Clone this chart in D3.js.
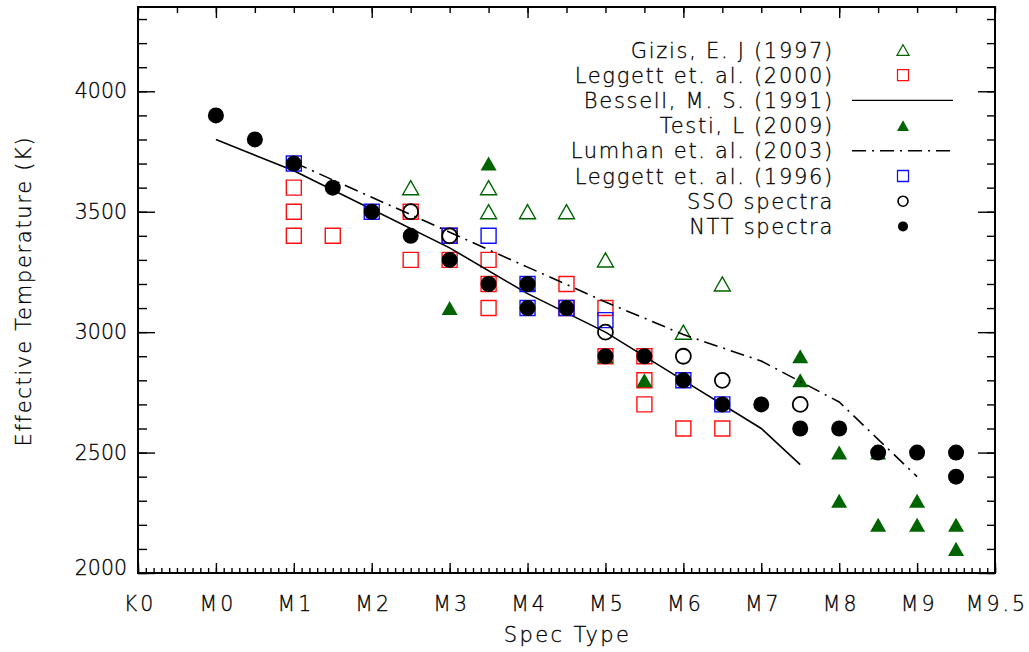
<!DOCTYPE html>
<html>
<head>
<meta charset="utf-8">
<script src="https://cdn.jsdelivr.net/npm/d3@7/dist/d3.min.js"></script>
<style>
	html,body{margin:0;padding:0;background:#fff;}
	#chart{width:1029px;height:652px;}
	text{font-family:'DejaVu Sans',sans-serif;font-weight:200;fill:#000;stroke:#000;stroke-width:0.3px;}
</style>
</head>
<body>
<div id="chart"></div>
<script>
// spectral type as number: K0=-1, M0=0 ... M9.5=9.5
var tickVals=[-1,0,1,2,3,4,5,6,7,8,9,10];
var tickNames=['K0','M0','M1','M2','M3','M4','M5','M6','M7','M8','M9','M9.5'];
var yTickVals=[2000,2500,3000,3500,4000];

var gizisType=[2.5,3.5,3.5,4,4.5,5,6,6.5];
var gizisTeff=[3600,3600,3500,3500,3500,3300,3000,3200];

var leg00Type=[1,1,1,1.5,2.5,2.5,3,3,3.5,3.5,3.5,4.5,4.5,5,5,5.5,5.5,5.5,6,6.5];
var leg00Teff=[3600,3500,3400,3400,3500,3300,3400,3300,3300,3200,3100,3200,3100,3100,2900,2900,2800,2700,2600,2600];

var besType=[0,1,2,3,4,5,6,7,7.5];
var besTeff=[3800,3670,3510,3350,3160,3000,2800,2600,2450];

var testiType=[3,3.5,4,5,5.5,7.5,7.5,8,8,8.5,8.5,9,9,9.5,9.5];
var testiTeff=[3100,3700,3200,2900,2800,2900,2800,2500,2300,2500,2200,2300,2200,2200,2100];

var lumType=[1,1.5,2,2.5,3,3.5,4,4.5,5,5.5,6,6.5,7,7.5,8,8.5,9];
var lumTeff=[3705,3632,3560,3488,3415,3342,3270,3198,3125,3058,2990,2935,2880,2795,2710,2555,2400];

var leg96Type=[1,2,3,3.5,4,4,4.5,5,6,6.5];
var leg96Teff=[3700,3500,3400,3400,3200,3100,3100,3050,2800,2700];

var ssoType=[2.5,3,5,6,6.5,7.5];
var ssoTeff=[3500,3400,3000,2900,2800,2700];

var nttType=[0,0.5,1,1.5,2,2.5,3,3.5,4,4,4.5,5,5.5,6,6.5,7,7.5,8,8.5,9,9.5,9.5];
var nttTeff=[3900,3800,3700,3600,3500,3400,3300,3200,3200,3100,3100,2900,2900,2800,2700,2700,2600,2600,2500,2500,2500,2400];

var legendNames=['Gizis, E. J (1997)','Leggett et. al. (2000)','Bessell, M. S. (1991)','Testi, L (2009)',
	'Lumhan et. al. (2003)','Leggett et. al. (1996)','SSO spectra','NTT spectra'];

var W=1029,H=652,
	L=138,R=995,T=7,B=573;

var svg=d3.select('#chart').append('svg')
	.attr('width',W).attr('height',H)
	.attr('font-size',21);

var x=d3.scaleLinear().domain([-1,10]).range([L,R]);
var y=d3.scaleLinear().domain([2000,4350]).range([B,T]);

function zip(a,b){
	return a.map(function(v,i){return [v,b[i]]});
}

// triangle centred on its bounding box
var triType={
	draw:function(ctx,size){
		var s=Math.sqrt(size),h=s*0.88;
		ctx.moveTo(0,-h/2);
		ctx.lineTo(s/2,h/2);
		ctx.lineTo(-s/2,h/2);
		ctx.closePath();
	}
};
var sqType={
	draw:function(ctx,size){
		var s=Math.sqrt(size)/2;
		ctx.rect(-s,-s,s*2,s*2);
	}
};
var circType={
	draw:function(ctx,size){
		var r=Math.sqrt(size)/2;
		ctx.moveTo(r,0);
		ctx.arc(0,0,r,0,Math.PI*2);
	}
};

// styles: big = in plot, small = legend
var styles=[
	{type:triType,big:16,small:12,fill:'none',stroke:'#006400',sw:1.4},
	{type:sqType,big:15,small:11,fill:'none',stroke:'#ff1010',sw:1.4},
	null,
	{type:triType,big:16,small:12,fill:'#006400',stroke:'none',sw:0},
	null,
	{type:sqType,big:15,small:11,fill:'none',stroke:'#1010ff',sw:1.4},
	{type:circType,big:15,small:10,fill:'none',stroke:'#000',sw:1.8},
	{type:circType,big:16,small:10,fill:'#000',stroke:'none',sw:0}
];

var gPlot=svg.append('g').attr('id','g-plot');

function drawPoints(pts,st){
	var sym=d3.symbol().type(st.type).size(st.big*st.big);
	gPlot.append('g').selectAll('path').data(pts).enter().append('path')
		.attr('transform',function(d){return 'translate('+x(d[0])+','+y(d[1])+')'})
		.attr('d',sym)
		.attr('fill',st.fill)
		.attr('stroke',st.stroke)
		.attr('stroke-width',st.sw);
}

var line=d3.line().x(function(d){return x(d[0])}).y(function(d){return y(d[1])});

function drawLine(pts,dash){
	gPlot.append('path').datum(pts)
		.attr('d',line)
		.attr('fill','none')
		.attr('stroke','#000')
		.attr('stroke-width',1.6)
		.attr('stroke-dasharray',dash||null);
}

var lumDash='14,6,2,6';

drawPoints(zip(gizisType,gizisTeff),styles[0]);
drawPoints(zip(leg00Type,leg00Teff),styles[1]);
drawLine(zip(besType,besTeff));
drawPoints(zip(testiType,testiTeff),styles[3]);
drawLine(zip(lumType,lumTeff),lumDash);
drawPoints(zip(leg96Type,leg96Teff),styles[5]);
drawPoints(zip(ssoType,ssoTeff),styles[6]);
drawPoints(zip(nttType,nttTeff),styles[7]);

// axes, ticks pointing inward
var minorX=d3.range(-10,101).map(function(v){return v/10});
var minorY=d3.range(2000,4351,100);

function tidy(g){
	g.select('.domain').remove();
	g.selectAll('line').attr('stroke','#000').attr('stroke-width',1.4);
}

svg.append('g').attr('transform','translate(0,'+B+')')
	.call(d3.axisBottom(x).tickValues(minorX).tickSize(-5).tickFormat(''))
	.call(tidy);
var gxb=svg.append('g').attr('transform','translate(0,'+B+')')
	.call(d3.axisBottom(x).tickValues(tickVals).tickSize(-10).tickPadding(23)
		.tickFormat(function(d,i){return tickNames[i]}))
	.call(tidy);
gxb.selectAll('.tick text').attr('letter-spacing',3).attr('dx',1.5);

svg.append('g').attr('transform','translate(0,'+T+')')
	.call(d3.axisTop(x).tickValues(d3.range(-1,10.01,0.5)).tickSize(-6).tickFormat(''))
	.call(tidy);
svg.append('g').attr('transform','translate(0,'+T+')')
	.call(d3.axisTop(x).tickValues([0,2,4,6,8]).tickSize(-11).tickFormat(''))
	.call(tidy);

svg.append('g').attr('transform','translate('+L+',0)')
	.call(d3.axisLeft(y).tickValues(minorY).tickSize(-9).tickFormat(''))
	.call(tidy);
var gyl=svg.append('g').attr('transform','translate('+L+',0)')
	.call(d3.axisLeft(y).tickValues(yTickVals).tickSize(-17).tickPadding(11).tickFormat(d3.format('d')))
	.call(tidy);
gyl.selectAll('.tick').filter(function(d){return d==2000}).select('text').attr('dy','0.05em');

svg.append('g').attr('transform','translate('+R+',0)')
	.call(d3.axisRight(y).tickValues(minorY).tickSize(-8).tickFormat(''))
	.call(tidy);
svg.append('g').attr('transform','translate('+R+',0)')
	.call(d3.axisRight(y).tickValues(yTickVals).tickSize(-17).tickFormat(''))
	.call(tidy);

svg.selectAll('.tick text').attr('font-size',20.5).attr('font-family','DejaVu Sans').attr('fill','#000');

svg.append('rect')
	.attr('x',L).attr('y',T).attr('width',R-L).attr('height',B-T)
	.attr('fill','none').attr('stroke','#000').attr('stroke-width',2);

// titles
svg.append('text').text('Spec Type')
	.attr('x',(L+R)/2+1).attr('y',642).attr('text-anchor','middle')
	.attr('letter-spacing',2.4);
svg.append('text').text('Effective Temperature (K)')
	.attr('transform','translate(31,'+((T+B)/2+1)+') rotate(-90)')
	.attr('text-anchor','middle')
	.attr('letter-spacing',1.7);

// legend
var gLeg=svg.append('g').attr('id','g-legend');
legendNames.forEach(function(name,i){
	var ly=50+i*25.2,st=styles[i];
	gLeg.append('text').text(name)
		.attr('x',834).attr('y',ly).attr('dy','0.36em').attr('text-anchor','end')
		.attr('letter-spacing',1.7);
	if(st){
		gLeg.append('path')
			.attr('transform','translate(903,'+ly+')')
			.attr('d',d3.symbol().type(st.type).size(st.small*st.small))
			.attr('fill',st.fill).attr('stroke',st.stroke).attr('stroke-width',st.sw*0.9);
	}else{
		gLeg.append('line')
			.attr('x1',852).attr('x2',953).attr('y1',ly).attr('y2',ly)
			.attr('stroke','#000').attr('stroke-width',1.4)
			.attr('stroke-dasharray',i==4?lumDash:null);
	}
});
</script>
</body>
</html>
